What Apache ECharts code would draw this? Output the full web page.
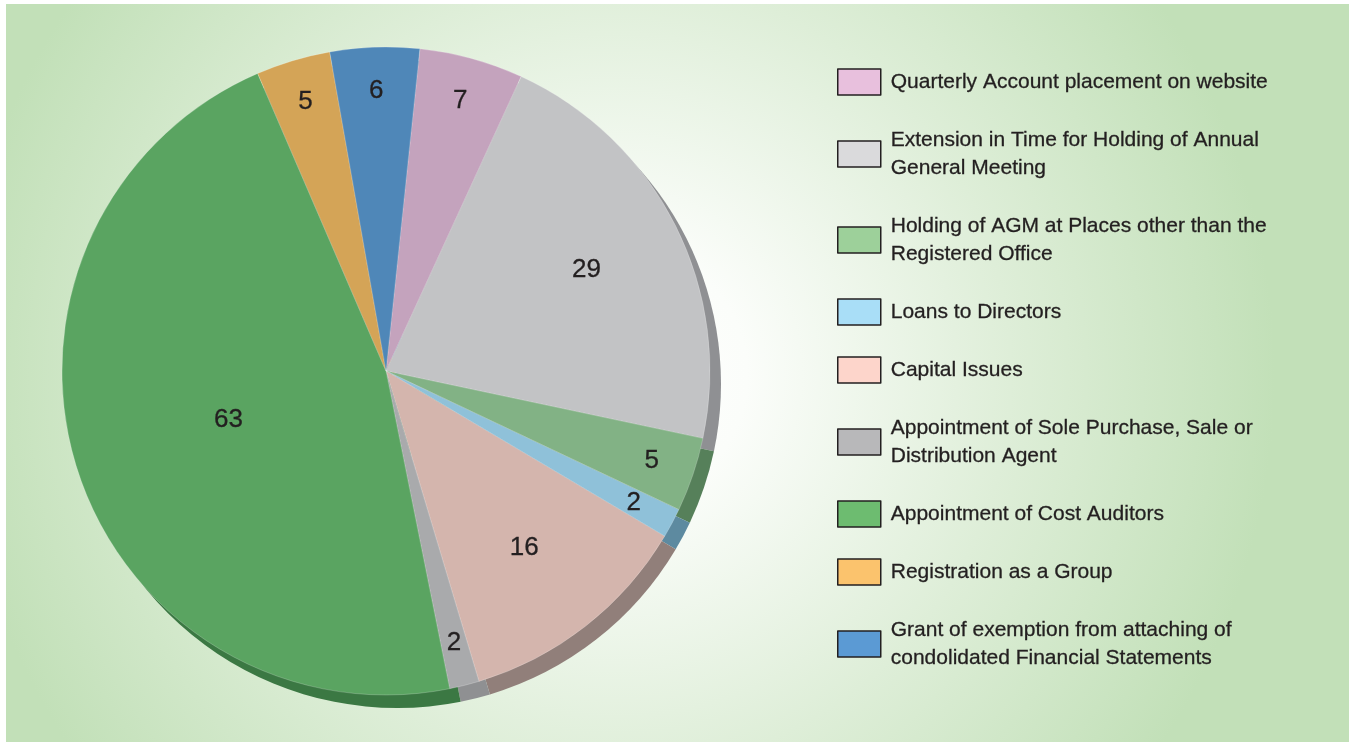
<!DOCTYPE html>
<html>
<head>
<meta charset="utf-8">
<style>
  html, body { margin: 0; padding: 0; background: #ffffff; }
  #main { width: 1349px; height: 742px; }
</style>
<script src="https://cdn.jsdelivr.net/npm/echarts@6/dist/echarts.min.js"></script>
</head>
<body>
<div id="main"></div>
<script>
// chart data
var categories = [
    'Quarterly Account placement on website',
    'Extension in Time for Holding of Annual General Meeting',
    'Holding of AGM at Places other than the Registered Office',
    'Loans to Directors',
    'Capital Issues',
    'Appointment of Sole Purchase, Sale or Distribution Agent',
    'Appointment of Cost Auditors',
    'Registration as a Group',
    'Grant of exemption from attaching of condolidated Financial Statements'
];
var values = [7, 29, 5, 2, 16, 2, 63, 5, 6];

var sliceColors = ['#c4a3bd', '#c2c3c5', '#82b285', '#8fc1d9', '#d4b5ad', '#a9aaac', '#5aa461', '#d4a457', '#4f87b8'];
var sideColors = ['#8a7386', '#8f9093', '#56805a', '#5d8aa0', '#917f7a', '#8f9092', '#3b7843', '#9a7838', '#3a6a94'];
var legendColors = ['#e8c0dd', '#dadadc', '#9dd09a', '#a9def7', '#fdd5cb', '#b8b8ba', '#6dbc70', '#fbc36d', '#5b9ad4'];

var cx = 386, cy = 371, R = 324;

var chart = echarts.init(document.getElementById('main'));

// how far out (share of the radius) each number sits
function labelRatio(v) {
    if (v >= 50) return 0.5;
    if (v >= 10) return 0.68;
    return 0.85;
}

chart.setOption({
    animation: false,
    graphic: [{
        type: 'rect',
        z: -10,
        silent: true,
        shape: { x: 6, y: 4, width: 1343, height: 738 },
        style: {
            fill: new echarts.graphic.RadialGradient(615, 375, 660, [
                { offset: 0, color: '#ffffff' },
                { offset: 0.2, color: '#fbfdfa' },
                { offset: 0.6, color: '#deeed8' },
                { offset: 1, color: '#c2e0b8' }
            ], true)
        }
    }],
    legend: {
        orient: 'vertical',
        left: 837,
        top: 68,
        padding: 0,
        selectedMode: false,
        icon: 'rect',
        itemWidth: 43,
        itemHeight: 26,
        itemGap: 30,
        data: categories.map(function (name, i) {
            return {
                name: name,
                itemStyle: { color: legendColors[i], borderColor: '#231f20', borderWidth: 1.5 }
            };
        }),
        textStyle: {
            fontFamily: 'Liberation Sans',
            fontSize: 21,
            lineHeight: 28,
            color: '#231f20',
            textBorderColor: '#231f20',
            textBorderWidth: 0.3,
            width: 390,
            overflow: 'break',
            padding: [0, 0, 0, 5]
        }
    },
    series: [{
        // 3d side of the pie
        type: 'pie',
        silent: true,
        z: 1,
        center: [cx + 11, cy + 13],
        radius: R,
        startAngle: 84,
        clockwise: true,
        label: { show: false },
        labelLine: { show: false },
        data: values.map(function (v, i) {
            return { name: categories[i], value: v, itemStyle: { color: sideColors[i] } };
        })
    }, {
        type: 'pie',
        z: 2,
        center: [cx, cy],
        radius: R,
        startAngle: 84,
        clockwise: true,
        itemStyle: {
            borderColor: 'rgba(255,255,255,0.35)',
            borderWidth: 0.6
        },
        label: {
            show: true,
            position: 'inside',
            formatter: '{c}',
            fontFamily: 'Liberation Sans',
            fontSize: 26,
            color: '#231f20',
            textBorderColor: '#231f20',
            textBorderWidth: 0.3
        },
        labelLayout: function (params) {
            var r = params.labelRect;
            var lx = r.x + r.width / 2;
            var ly = r.y + r.height / 2;
            var k = labelRatio(values[params.dataIndex]);
            return {
                x: cx + (lx - cx) * 2 * k,
                y: cy + (ly - cy) * 2 * k
            };
        },
        labelLine: { show: false },
        emphasis: { disabled: true },
        data: values.map(function (v, i) {
            return { name: categories[i], value: v, itemStyle: { color: sliceColors[i] } };
        })
    }]
});
</script>
</body>
</html>
